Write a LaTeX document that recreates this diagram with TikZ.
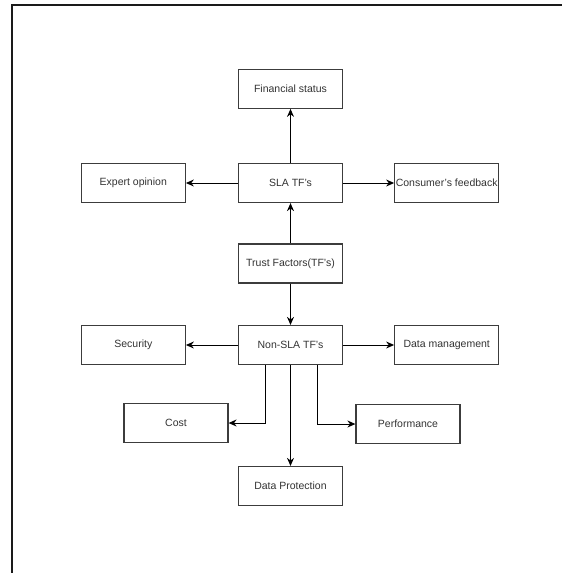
\documentclass[tikz,border=0pt]{standalone}
\usepackage{fontspec}
\setmainfont{Liberation Sans}
\usepackage{xcolor}
\usepackage{tikz}
\usetikzlibrary{positioning, arrows.meta, calc}
\definecolor{boxgray}{HTML}{3C3C3C}
\definecolor{textgray}{HTML}{333333}
\definecolor{framegray}{HTML}{1A1A1A}

\begin{document}
\begin{tikzpicture}[
      x=1pt, y=-1pt, >=Stealth,
      tfbox/.style={rectangle, draw=boxgray, fill=white, line width=1.2pt,
        minimum width=104pt, minimum height=39pt, inner sep=1pt,
        font=\fontsize{10.5}{12}\selectfont, text=textgray, align=center},
      myarrow/.style={->, line width=1pt, color=black, >={Stealth[length=8pt, width=7pt]}}
    ]
    \useasboundingbox (0,0) rectangle (562,573);
    % Frame
    \draw[framegray, line width=1.5pt] (12,573) -- (12,5) -- (562,5);
    % SLA row
    \node[tfbox] (sla) at (290.5, 183) {SLA TF's};
    \node[tfbox, above=54pt of sla] (fin) {Financial status};
    \node[tfbox, left=52pt of sla] (exp) {Expert opinion};
    \node[tfbox, right=51pt of sla] (cons) {Consumer's feedback};
    \draw[myarrow] (sla) -- (fin);
    \draw[myarrow] (sla) -- (exp);
    \draw[myarrow] (sla) -- (cons);
    % Trust factors
    \node[tfbox] (trust) at (290.5, 263.5) {Trust Factors(TF's)};
    \draw[myarrow] (trust) -- (sla);
    % Non-SLA row
    \node[tfbox] (nonsla) at (290.5, 345) {Non-SLA TF's};
    \node[tfbox, left=52pt of nonsla] (sec) {Security};
    \node[tfbox, right=51pt of nonsla] (dm) {Data management};
    \node[tfbox] (cost) at (176, 423) {Cost};
    \node[tfbox] (perf) at (408, 424) {Performance};
    \node[tfbox] (dp) at (290.5, 486) {Data Protection};
    \draw[myarrow] (trust) -- (nonsla);
    \draw[myarrow] (nonsla) -- (sec);
    \draw[myarrow] (nonsla) -- (dm);
    \draw[myarrow] (nonsla) -- (dp);
    \draw[myarrow] ([xshift=-25.5pt]nonsla.south) |- (cost);
    \draw[myarrow] ([xshift=26.5pt]nonsla.south) |- (perf);
    \end{tikzpicture}
\end{document}
